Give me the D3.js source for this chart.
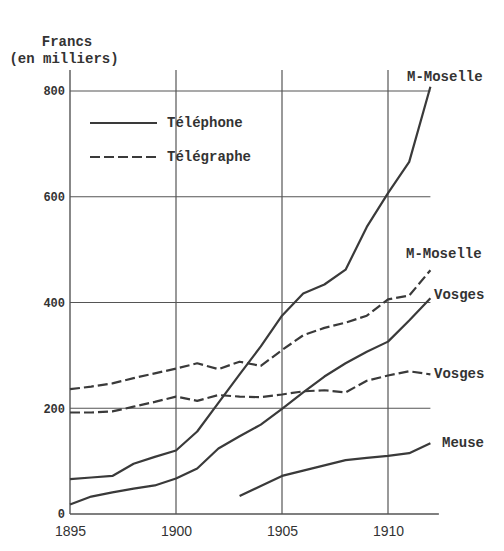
<!DOCTYPE html>
<html>
<head>
<meta charset="utf-8">
<script src="https://cdn.jsdelivr.net/npm/d3@7"></script>
<style>
  body { margin: 0; background: #fff; }
  svg text { fill: #333; }
  .mono { font-family: "Liberation Mono", "DejaVu Sans Mono", monospace; font-weight: bold; }
  .grid line { stroke: #555; stroke-width: 1.2; }
  .serie { fill: none; stroke: #3a3a3a; stroke-width: 2.2; stroke-linejoin: round; }
  .dash { stroke-dasharray: 10,4; }
</style>
</head>
<body>
<svg width="504" height="551"></svg>
<script>
// years 1895 - 1912, values in thousands of francs
const years = d3.range(1895, 1913);
const meuseYears = d3.range(1903, 1913);

const telMoselle = [66, 69, 72, 95, 108, 120, 156, 210, 264, 317, 375, 417, 434, 462, 543, 607, 666, 808];
const telVosges  = [18, 33, 41, 48, 54, 67, 86, 124, 147, 169, 199, 230, 260, 285, 307, 326, 366, 408];
const telMeuse   = [34, 53, 72, 82, 92, 102, 106, 110, 115, 134];

const tgMoselle  = [236, 241, 247, 257, 266, 275, 285, 274, 288, 280, 310, 338, 352, 362, 375, 406, 413, 461];
const tgVosges   = [192, 192, 194, 203, 212, 222, 214, 225, 222, 221, 226, 232, 234, 230, 252, 262, 270, 264];

const yTicks = [0, 200, 400, 600, 800];
const xTicks = [1895, 1900, 1905, 1910];
const vGrid = [1900, 1905, 1910];
const hGrid = [200, 400, 600, 800];

const svg = d3.select('svg');

const x = d3.scaleLinear().domain([1895, 1912]).range([70, 430.4]);
const y = d3.scaleLinear().domain([0, 800]).range([514, 91]);
const yTop = 70;

// grid
const grid = svg.append('g').attr('class', 'grid');
grid.selectAll('.h').data(hGrid).join('line')
    .attr('x1', x(1895)).attr('x2', x(1912))
    .attr('y1', d => y(d)).attr('y2', d => y(d));
grid.selectAll('.v').data(vGrid).join('line')
    .attr('x1', d => x(d)).attr('x2', d => x(d))
    .attr('y1', yTop).attr('y2', y(0));

// axes
const xAxis = svg.append('g')
    .attr('transform', `translate(0,${y(0)})`)
    .call(d3.axisBottom(x).tickValues(xTicks).tickFormat(d3.format('d')).tickSize(0).tickPadding(12));
xAxis.select('.domain').remove();
xAxis.selectAll('text')
    .attr('font-family', '"Liberation Sans", sans-serif')
    .attr('font-size', 14)
    .attr('fill', '#333');
svg.append('line')
    .attr('x1', x(1895)).attr('x2', x(1912.4))
    .attr('y1', y(0)).attr('y2', y(0))
    .attr('stroke', '#555').attr('stroke-width', 1.4);

const yAxis = svg.append('g')
    .attr('transform', `translate(${x(1895)},0)`)
    .call(d3.axisLeft(y).tickValues(yTicks).tickSize(0).tickPadding(5));
yAxis.select('.domain').remove();
yAxis.selectAll('text')
    .attr('class', 'mono')
    .attr('font-size', 12)
    .attr('fill', '#333');
svg.append('line')
    .attr('x1', x(1895)).attr('x2', x(1895))
    .attr('y1', yTop).attr('y2', y(0))
    .attr('stroke', '#555').attr('stroke-width', 1.4);

// titles
svg.append('text').attr('class', 'mono').attr('font-size', 14)
    .attr('x', 67).attr('y', 46).attr('text-anchor', 'middle').text('Francs');
svg.append('text').attr('class', 'mono').attr('font-size', 14)
    .attr('x', 64).attr('y', 63).attr('text-anchor', 'middle').text('(en milliers)');

// series
const line = d3.line().x(d => x(d[0])).y(d => y(d[1]));
const series = [
    {yrs: years, vals: telMoselle, dash: false, label: 'M-Moselle', lx: 407, ly: 81},
    {yrs: years, vals: telVosges, dash: false, label: 'Vosges', lx: 434, ly: 299},
    {yrs: meuseYears, vals: telMeuse, dash: false, label: 'Meuse', lx: 442, ly: 447},
    {yrs: years, vals: tgMoselle, dash: true, label: 'M-Moselle', lx: 406, ly: 258},
    {yrs: years, vals: tgVosges, dash: true, label: 'Vosges', lx: 434, ly: 378}
];

svg.selectAll('.serie').data(series).join('path')
    .attr('class', d => d.dash ? 'serie dash' : 'serie')
    .attr('d', d => line(d.yrs.map((yr, i) => [yr, d.vals[i]])));

svg.selectAll('.lab').data(series).join('text')
    .attr('class', 'mono')
    .attr('font-size', 14)
    .attr('x', d => d.lx).attr('y', d => d.ly)
    .text(d => d.label);

// legend
const legend = [
    {label: 'Téléphone', dash: false, y: 123},
    {label: 'Télégraphe', dash: true, y: 157}
];
const lg = svg.append('g');
lg.selectAll('line').data(legend).join('line')
    .attr('class', d => d.dash ? 'serie dash' : 'serie')
    .attr('x1', 90).attr('x2', 157)
    .attr('y1', d => d.y).attr('y2', d => d.y);
lg.selectAll('text').data(legend).join('text')
    .attr('class', 'mono').attr('font-size', 14)
    .attr('x', 167).attr('y', d => d.y + 4)
    .text(d => d.label);
</script>
</body>
</html>
